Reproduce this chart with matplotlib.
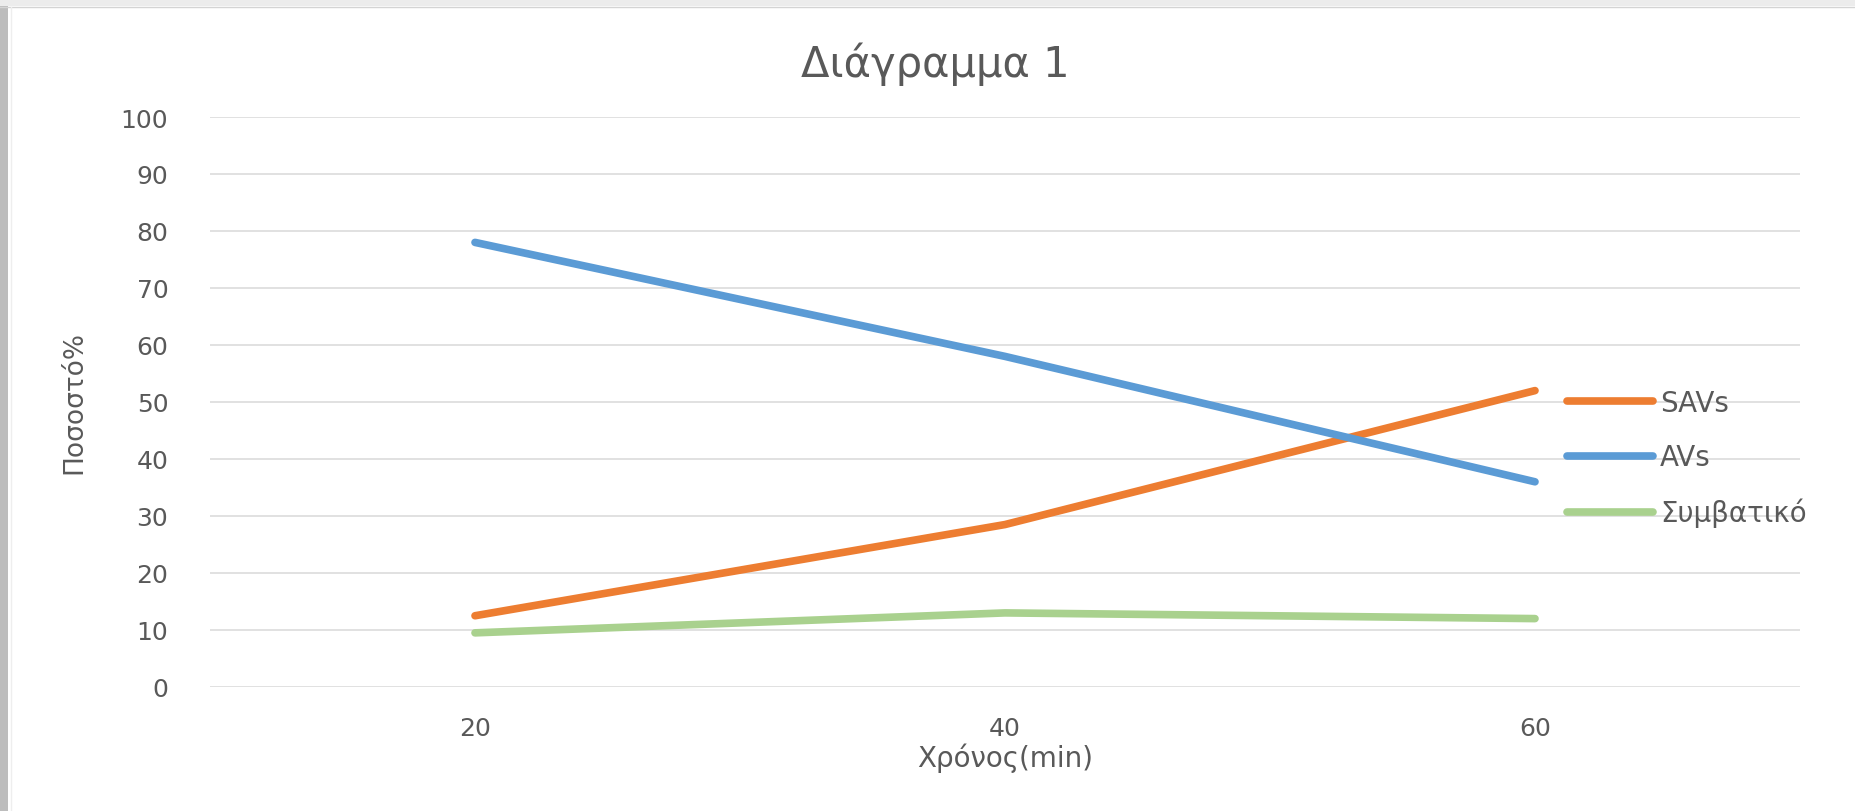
import numpy as np
import matplotlib
matplotlib.use('Agg')
import matplotlib.pyplot as plt
from matplotlib.patches import Rectangle

# time categories (minutes) and share of each mode in %
times = ['20', '40', '60']
savs = [12.5, 28.5, 52]
avs = [78, 58, 36]
conventional = [9.5, 13, 12]

seriesNames = ['SAVs', 'AVs', 'Συμβατικό']
seriesColors = ['#ED7D31', '#5B9BD5', '#A9D18E']

textColor = '#595959'
gridColor = '#d9d9d9'


def drawFrame(fig):
    # grey border strip on the left and top of the chart panel
    fig.patches.append(Rectangle((0, 0), 8 / 1855, 1, transform=fig.transFigure,
                                 facecolor='#bdbdbd', edgecolor='none', zorder=0))
    fig.patches.append(Rectangle((0, 1 - 7 / 812), 1, 7 / 812, transform=fig.transFigure,
                                 facecolor='#ececec', edgecolor='none', zorder=0))
    fig.add_artist(plt.Line2D([0, 1], [1 - 8 / 812, 1 - 8 / 812], transform=fig.transFigure,
                              color='#d4d4d4', lw=1))
    fig.add_artist(plt.Line2D([11 / 1855, 11 / 1855], [0, 1 - 8 / 812], transform=fig.transFigure,
                              color='#eeeeee', lw=1))


def plotLines(data):
    fig = plt.figure(figsize=(18.55, 8.12), dpi=100)
    fig.patch.set_facecolor('white')
    drawFrame(fig)

    ax = fig.add_axes([210 / 1855, 1 - 688 / 812, 1590 / 1855, 570 / 812])
    x = np.arange(len(times))
    for values, name, color in zip(data, seriesNames, seriesColors):
        ax.plot(x, values, color=color, lw=5.5, label=name, solid_capstyle='round', zorder=3)

    ax.set_xlim(-0.5, len(times) - 0.5)
    ax.set_ylim(0, 100)
    ax.set_yticks(np.arange(0, 101, 10))
    ax.set_xticks(x)
    ax.set_xticklabels(times)
    ax.tick_params(axis='both', length=0, labelsize=18, labelcolor=textColor)
    ax.tick_params(axis='y', pad=30)
    ax.tick_params(axis='x', pad=21)
    ax.grid(axis='y', color=gridColor, lw=1.1)
    ax.set_axisbelow(True)
    for side in ['top', 'right', 'left', 'bottom']:
        ax.spines[side].set_visible(False)

    ax.set_xlabel('Χρόνος(min)', fontsize=20, color=textColor, labelpad=2)
    ax.set_ylabel('Ποσοστό%', fontsize=19, color=textColor, labelpad=24)

    fig.text(935 / 1855, 1 - 64 / 812, 'Διάγραμμα 1', fontsize=30, color=textColor,
             ha='center', va='center')

    ax.legend(loc='upper left', bbox_to_anchor=(1567 / 1855, 1 - 390 / 812),
              bbox_transform=fig.transFigure, frameon=False, fontsize=20,
              handlelength=3.1, handletextpad=0.25, labelspacing=0.95,
              borderpad=0, borderaxespad=0, labelcolor=textColor)

    fig.savefig('out.png', dpi=100)


if __name__ == "__main__":
    plotLines([savs, avs, conventional])
